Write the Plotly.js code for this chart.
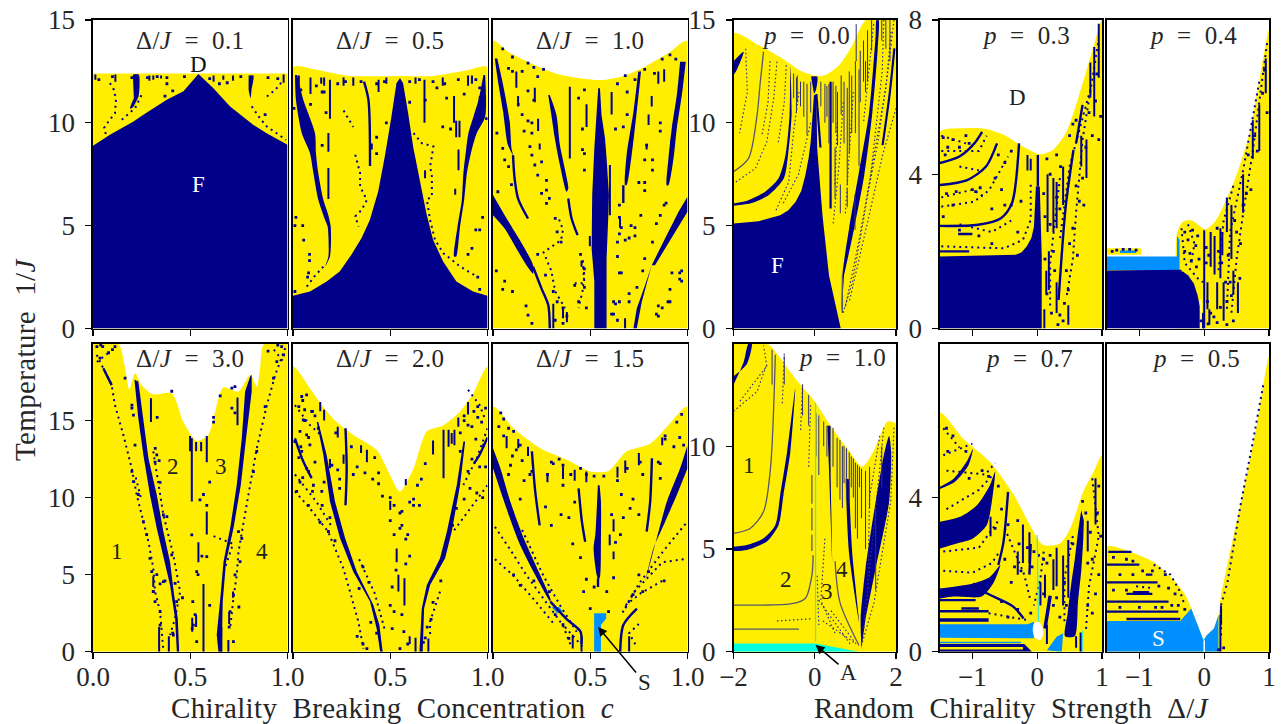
<!DOCTYPE html>
<html><head><meta charset="utf-8">
<script src="https://cdn.plot.ly/plotly-3.0.1.min.js"></script>
<style>html,body{margin:0;padding:0;background:#fff}#g{width:1282px;height:724px}.annotation-text{letter-spacing:.35px}</style>
</head><body><div id="g"></div>
<script>
// ---------- Δ/J = 0.1 ----------
const a1Edge=[[0,12.4],[1,12.4]];
const a1Navy=[[[0,0],[0,8.88],[.087,9.42],[.208,10.06],[.259,10.39],[.379,11.12],[.465,11.53],[.542,12.38],[.619,11.68],[.705,10.79],[.825,9.9],[.893,9.49],[1,8.93],[1,0]],
 [[.205,12.35],[.235,12.35],[.235,11.3],[.22,11],[.205,10.75],[.19,10.7],[.21,11.2]],[[.80,12.3],[.825,12.3],[.815,11.6],[.81,11.2],[.80,11.6]]];
const a1Streaks=[[.115,12.35,12],[.29,12.3,12.05],[.31,12.3,12.1],[.35,12.3,12.15],[.62,12.3,12],[.67,12.3,12.1],[.72,12.3,12.05],[.98,12.35,11.95],[.012,12.35,12.1]];
const a1Chains=[[[.087,11.93],[.108,11.6],[.118,11.12],[.113,10.47],[.079,10.06],[.057,9.75],[.067,9.42]],[[.148,10.15],[.216,10.71],[.25,11.36]],[[.816,10.8],[.86,10.2],[.894,9.82],[.945,9.5],[.993,9.17]],[[.894,11.28],[.937,11.6],[.98,12.09]]];
const a1Dots=[[.03,12.1],[.1,12.25],[.2,12.2],[.28,12.2],[.33,12.25],[.38,12.2],[.47,12.25],[.41,11.55],[.37,11.3],[.6,12.15],[.65,11.9],[.69,11.95],[.76,12.25],[.9,12.2],[.95,12.15],[.885,10.4],[.38,11.9]];
// ---------- Δ/J = 0.5 ----------
const a2Edge=[[0,12.7],[.12,12.58],[.29,12.28],[.55,12.28],[.72,12.28],[.89,12.54],[1,12.7]];
const a2Navy=[[[0,0],[0,1.59],[.087,1.8],[.173,2.29],[.24,2.77],[.30,3.58],[.352,4.39],[.395,5.28],[.438,6.66],[.472,8.36],[.506,10.3],[.532,11.93],[.55,12.18],[.566,11.93],[.592,10.46],[.618,8.83],[.652,7.21],[.686,5.59],[.72,4.31],[.772,3.26],[.84,2.29],[.926,1.8],[1,1.59],[1,0]],
 [[.01,12.33],[.015,11.12],[.045,9.5],[.087,8.53],[.105,7.55],[.13,6.26],[.165,5.28],[.178,4.96],[.182,3.5],[.165,3.01],[.19,3.5],[.194,4.96],[.182,5.5],[.156,6.26],[.13,7.55],[.118,8.53],[.113,9.5],[.053,11.12],[.022,12.33]],
 [[.979,12.33],[.954,11.12],[.928,10.31],[.902,9.5],[.89,8.69],[.876,7.55],[.868,6.26],[.846,4.96],[.828,3.5],[.839,3.5],[.859,4.96],[.88,6.26],[.894,7.55],[.919,8.69],[.945,9.5],[.988,10.31],[.988,12.33]]];
const a2Lines=[[[.365,12],[.388,11.1],[.396,7.9]]];
const a2Streaks=[[.182,9.5,8.6],[.19,12.1,10.2],[.182,7.8,6.3],[.44,12.1,11.5],[.676,12.1,10],[.828,11.3,10],[.839,10.1,9.3],[.856,10.1,9.3],[.851,8.7,7.7],[.679,7.7,7.3],[.834,6.8,6.5],[.09,12.2,11.4],[.26,12.2,11.8],[.405,9,8.7],[.145,12.2,11.9],[.16,12.2,11.8],[.31,12.2,11.8],[.48,12.2,11.9],[.63,12.2,11.9],[.77,12.2,11.8],[.9,12.3,11.8],[.92,12.3,11.9],[.96,11.3,10.3],[.03,12.3,11.7]];
const a2Chains=[[[.26,10.6],[.31,9.8]],[[.32,8.45],[.345,7.55],[.345,6.9],[.38,6.25],[.353,5.77],[.32,5.45],[.337,4.96]],[[.62,9.5],[.662,9.01],[.722,8.85],[.705,7.88],[.714,7.39],[.714,6.42],[.688,6.26],[.705,5.28],[.73,4.31],[.773,3.66],[.86,3.01],[.945,2.53]],[[.156,3.01],[.11,2.53],[.07,2.03]]];
const a2Dots=[[.015,5.4],[.01,5],[.05,5],[.055,4.3],[.085,3.6],[.085,3.3],[.075,2.5],[.08,2.7],[.01,1.8],[.975,5.4],[.94,4.8],[.96,4.8],[.92,3.9],[.9,3.6],[.95,2.5],[.96,1.9],[.15,8.9],[.17,10.5],[.15,11.5],[.09,10.9],[.04,11.6],[.43,8.5],[.43,9.3],[.48,10],[.6,11],[.68,11.1],[.79,11.2],[.88,11.4],[.96,11.7],[.77,9.8],[.81,9.7],[.005,10.7],[.995,10.2],[.12,11.8],[.16,11.5],[.23,11.9],[.27,12],[.35,12],[.43,11.9],[.47,12],[.6,12],[.65,12.1],[.72,12],[.74,11.7],[.78,11.9],[.85,12.1],[.94,12.1]];
// ---------- Δ/J = 1.0 ----------
const a3Edge=[[0,13.98],[.077,13.46],[.198,12.89],[.335,12.36],[.455,12.16],[.558,12.08],[.66,12.24],[.78,12.73],[.9,13.38],[1,13.98]];
const a3Navy=[[[.541,11.68],[.527,9.73],[.521,8.76],[.51,6.49],[.507,3.89],[.521,2.27],[.521,0],[.584,0],[.584,3.41],[.593,5.51],[.596,6.49],[.584,8.27],[.576,9.24],[.558,10.38],[.55,11.68]],
 [[.009,13.13],[.026,12],[.052,10.54],[.077,8.92],[.103,8.43],[.095,8.76],[.086,10.05],[.052,11.84],[.022,13.13]],
 [[.284,11.35],[.30,10.38],[.318,9.24],[.344,7.95],[.378,6.65],[.387,6.81],[.369,7.78],[.344,8.92],[.326,10.38],[.292,11.35]],
 [[0,6.49],[.06,5.51],[.112,4.7],[.163,3.89],[.206,3.08],[.206,2.68],[.172,3.08],[.12,3.89],[.06,4.86],[0,5.51]],
 [[.962,12.97],[.945,11.35],[.919,9.73],[.902,8.27],[.893,6.97],[.902,6.97],[.928,8.27],[.945,9.73],[.971,11.35],[.991,12.97]],
 [[.747,12.49],[.722,10.54],[.687,8.43],[.679,6.97],[.687,6.97],[.713,8.43],[.739,10.54],[.761,12.49]],
 [[1,6.41],[.954,5.68],[.902,4.7],[.851,3.73],[.816,3.08],[.782,2.11],[.739,.97],[.722,0],[.739,0],[.765,1.3],[.816,3.08],[.833,3.08],[.885,3.89],[.945,4.86],[1,5.68]]];
const a3Lines=[[[.103,8.43],[.111,7.3],[.129,6.32],[.18,5.35]],[[.387,6.32],[.404,5.35],[.435,4.54]],[[.206,3.0],[.249,1.95],[.284,1.14],[.292,0]],[[.67,6.97],[.67,6.1]]];
const a3Streaks=[[.395,11.76,8.27],[.481,10.9,9.8],[.61,11.5,10.4],[.601,7.95,5.51],[.215,11.7,11],[.12,12.5,11.7],[.129,11.3,10.8],[.232,10.2,9.6],[.24,9,8.7],[.8,10.4,9.9],[.816,11.3,10.8],[.79,9,8.7],[.653,5.4,4.9],[.498,4.5,4],[.455,3.3,3],[.679,.5,0],[.88,12.6,12],[.85,12.5,11.9],[.31,1.2,0],[.36,1,.5],[.38,.8,.3]];
const a3Chains=[[[.34,5.3],[.36,4.8],[.35,4.3],[.26,3.7],[.3,2.8],[.32,1.8],[.37,1]],[[.42,2.2],[.47,2.2],[.46,3.4],[.47,2.6],[.46,1.8],[.44,1]]];
const a3Dots=[[.017,2.8],[.06,2.3],[.05,1.9],[.1,1.8],[.17,1.1],[.18,.65],[.2,.25],[.92,2.7],[.96,2.4],[.96,2.7],[.9,1.3],[.85,1.1],[.84,.7],[.66,2.7],[.7,1.7],[.65,1.3],[.62,.7],[.64,.4],[.63,1.2],[.68,4.3],[.65,6],[.75,7.1],[.71,5],[.73,4.5],[.05,13.6],[.1,13.2],[.08,12.65],[.1,12.5],[.15,12.5],[.18,12.9],[.21,12.7],[.26,12.6],[.23,12.25],[.18,11.55],[.21,11.1],[.13,10.9],[.15,10.4],[.18,10.1],[.2,10],[.16,9.6],[.2,9.5],[.02,9.5],[.05,8.76],[.06,8.2],[.08,7.87],[.19,8.84],[.2,8.43],[.215,7.95],[.25,8.1],[.23,7.46],[.275,7.2],[.275,6.73],[.25,6.57],[.29,6.33],[.275,6.08],[.025,6.65],[.095,7],[.32,5.35],[.33,4.7],[.35,4.2],[.23,3.6],[.27,2.6],[.31,1.8],[.33,1.3],[.44,11.2],[.47,11.6],[.46,9.7],[.46,8.7],[.47,8.5],[.47,7.7],[.45,3.6],[.47,2.9],[.42,2.1],[.47,2],[.44,1.3],[.48,1],[.36,1],[.38,.6],[.36,.25],[.32,.4],[.63,9.7],[.67,9.8],[.69,10.4],[.69,11.5],[.64,11.9],[.68,12.3],[.73,12.1],[.78,12.6],[.83,12.4],[.87,13.1],[.91,13.3],[.94,13.1],[.86,10],[.86,9.6],[.92,9.1],[.79,8.9],[.78,8.2],[.82,8.2],[.82,7.7],[.78,7.1],[.78,6.7],[.89,6.1],[.88,6],[.86,5.5],[.84,5.1],[.76,5.5],[.65,5.4],[.66,4.9],[.65,4.6],[.64,4.2],[.7,4.4],[.73,4.9],[.82,4.2],[.78,3.4],[.64,3.5],[.65,2.7],[.62,1.3],[.61,.7],[.7,1.3],[.74,2],[.77,2.8],[.91,1.9],[.91,1.3],[.87,1],[.85,.6],[.97,2.8],[.97,2.3]];
// ---------- Δ/J = 3.0 ----------
const b1Edge=[[0,20],[.13,20],[.165,18.4],[.187,17],[.216,18.07],[.25,17.3],[.307,16.7],[.405,16.77],[.465,14.9],[.533,13.68],[.594,14.1],[.628,15.58],[.67,17.14],[.748,16.88],[.808,17.97],[.842,17.2],[.859,18.4],[.88,20],[1,20]];
const b1Navy=[[[.213,17.64],[.233,15.15],[.259,12.77],[.293,10.17],[.328,8],[.362,6.06],[.396,4.33],[.422,2.16],[.431,0],[.443,0],[.436,2.16],[.417,3.68],[.396,5.84],[.362,7.79],[.328,10.17],[.285,12.55],[.259,15.15],[.233,17.53]],
 [[.808,17.86],[.782,16.88],[.765,13.85],[.739,10.82],[.705,8],[.671,5.84],[.653,3.25],[.636,1.08],[.645,0],[.662,0],[.667,3.25],[.684,5.84],[.722,8],[.76,10.82],[.787,13.85],[.816,16.88],[.816,17.97]]];
const b1Lines=[[[.053,18.4],[.096,17.3]]];
const b1Streaks=[[.298,16.45,14.9],[.508,13.85,9.74],[.499,14,13],[.585,14,12.3],[.585,9.1,7.6],[.542,7.1,5.8],[.568,4.4,0],[.743,16.5,14.7],[.34,1.6,0],[.696,.76,0],[.53,13.6,13],[.556,13.6,13],[.51,2.2,1.3],[.53,2.4,1.6],[.39,1,0],[.66,1.6,0],[.7,2.6,1.8],[.72,3.9,3.5],[.31,4.9,4.2]];
const b1Chains=[[[.019,19.26],[.053,18.4],[.096,17.3],[.113,16],[.156,14.07],[.199,11.9],[.225,10.17],[.259,8.44],[.285,7.14],[.31,5.41],[.319,3.9],[.345,2.6],[.362,0]],[[.988,19.7],[.937,17.97],[.894,16],[.842,13.2],[.808,10.82],[.774,8.44],[.748,6.49],[.739,4.98],[.722,3.46],[.705,1.5]],[[.31,13],[.345,10.4],[.362,8.87],[.413,6.28],[.448,3.9],[.422,2.16],[.396,1.08]],[[.62,7.5],[.72,7],[.68,5.5]],[[.02,18.8],[.08,19.4]],[[.93,19.6],[.98,18.8]],[[.22,11.3],[.25,9.8]]];
const b1Dots=[[.1,19.6],[.04,19.9],[.95,19.9],[.9,19.5],[.2,15.8],[.33,15.2],[.32,13.2],[.34,12.4],[.6,11],[.56,6.2],[.54,5],[.6,3],[.51,1.5],[.75,2.9],[.46,3.5],[.31,3.9],[.345,4.4],[.37,4.6],[.41,1.2],[.7,1.6],[.73,15.5],[.62,15.2],[.73,17.2],[.02,19.8],[.05,19.8],[.036,19.05],[.08,19.4],[.113,19.8],[.165,17.75],[.2,16],[.208,15.35],[.216,13.4],[.2,11.7],[.208,11.04],[.233,10.2],[.259,8.44],[.276,7.6],[.293,6.06],[.302,5.2],[.328,5],[.31,3.9],[.362,4.55],[.319,3.25],[.345,2.6],[.345,1.73],[.413,1.08],[.43,3.25],[.422,4.44],[.405,6.28],[.362,8.87],[.38,8.77],[.345,10.99],[.319,12.3],[.328,12.77],[.55,9.85],[.568,10.2],[.585,9.5],[.508,7.58],[.585,6.17],[.533,5.2],[.513,3.25],[.525,2.4],[.516,1.73],[.533,.65],[.722,.65],[.705,2.6],[.722,3.68],[.73,4.98],[.756,5.84],[.765,7.36],[.748,7.79],[.825,11.69],[.842,13],[.885,15.9],[.928,17.75],[.945,18.83],[.98,19.26],[.97,19.8],[.62,14.9],[.654,16.6],[.714,15.8],[.714,17.1],[.405,16.9]];
// ---------- Δ/J = 2.0 ----------
const b2Edge=[[0,18.5],[.087,17.1],[.148,16],[.225,14.9],[.31,14.07],[.43,13.1],[.49,11.7],[.55,10.4],[.62,11.9],[.688,14.3],[.774,14.7],[.86,15.6],[.928,16.8],[1,18.5]];
const b2Navy=[[[.122,14.9],[.156,12.77],[.19,9.74],[.242,7.36],[.31,5.19],[.396,3.25],[.43,1.5],[.448,0],[.461,0],[.444,1.73],[.413,3.03],[.328,5.19],[.268,7.36],[.216,9.74],[.173,12.77],[.13,14.9]],
 [[.876,13.64],[.842,10.82],[.791,7.79],[.756,6.06],[.688,4.33],[.662,2.81],[.65,0],[.667,0],[.674,2.81],[.705,4.33],[.782,6.06],[.816,7.79],[.859,10.82],[.885,13.64]]];
const b2Lines=[[[.01,13.85],[.053,12.34],[.096,11.26]],[[1,13.9],[.96,12.8],[.93,12.2]],[[.27,14.5],[.276,11.9],[.27,9.5]]];
const b2Streaks=[[.774,14.4,11.26],[.542,5,3.9],[.573,4.76,3],[.533,6.7,5.8],[.816,14.2,13.5],[.85,15.2,14.6],[.696,.86,0],[.8,14.4,13.3],[.83,14.4,13.4],[.9,16.2,15.4],[.16,15.7,15],[.14,16.2,15.6],[.23,14.6,13.9],[.26,12.8,12.2],[.19,12.5,11.9],[.5,9.8,9.2],[.58,11.2,10.8],[.35,13.4,12.9],[.72,13.7,12.8],[.38,13.1,12.3],[.6,1,.5],[.63,.9,0]];
const b2Chains=[[[.01,10.4],[.087,9.3],[.18,7.8],[.259,5.4],[.293,3.9],[.336,1.95],[.362,.2]],[[.01,11.5],[.12,9.74],[.2,8.1]],[[.01,16],[.087,14.7],[.14,14.1]],[[1,14.5],[.945,12.55],[.876,10.82]],[[1,10.8],[.894,9],[.824,7.8]],[[.756,3.9],[.705,1.95],[.705,1.1]],[[.34,6],[.42,3.8],[.47,1.5]],[[.9,17],[.96,16],[.99,15]]];
const b2Dots=[[.05,16.3],[.1,15.6],[.06,15],[.13,14.5],[.22,14.2],[.3,13.3],[.42,12.6],[.44,11.6],[.95,15.2],[.92,14.6],[.88,15],[.94,13.8],[.86,13],[.99,12],[.55,9],[.62,9.5],[.56,8.2],[.59,7.6],[.04,13.3],[.08,13.9],[.045,16.56],[.07,16.67],[.03,15.9],[.06,15.7],[.096,15.6],[.113,15.3],[.053,15.05],[.036,14.3],[.07,14.07],[.01,13.64],[.087,13.42],[.045,13],[.113,12.3],[.07,11.9],[.036,11],[.105,10.8],[.148,10.4],[.019,10.4],[.079,9.5],[.139,8.4],[.182,7.8],[.216,7.2],[.88,15.3],[.86,14.2],[.9,14.7],[.93,15.6],[.95,15.9],[.97,14.9],[.99,15.8],[.98,13.4],[.96,12],[.92,12.5],[.9,11.7],[.91,10.6],[.945,10.3],[.975,10],[.88,9.9],[.84,9.3],[.82,8.2],[.5,10],[.52,9.5],[.5,8.5],[.56,9.1],[.6,9.7],[.62,9.9],[.65,9.5],[.66,11.2],[.68,12.2],[.64,10.8],[.55,8],[.52,7.6],[.58,7.3],[.6,6.2],[.58,5.7],[.53,5.3],[.51,4.2],[.5,3],[.52,2.6],[.56,2.4],[.51,1.5],[.57,1.3],[.55,.2],[.59,.5],[.05,11.3],[.1,10.4],[.15,9.5],[.19,8.7],[.03,12.6],[.08,11.7],[.16,11],[.2,12.1],[.23,11.8],[.24,11.2],[.24,10.6],[.31,11.5],[.33,12],[.37,11.6],[.41,11.2],[.44,10.9],[.46,10.1],[.36,5.5],[.39,4.5],[.34,4.1],[.4,1.9],[.43,1.2],[.33,1],[.36,.5],[.38,.2],[.76,4.6],[.72,3.2],[.71,2.1],[.69,1.6],[.68,.9],[.67,.6]];
// ---------- Δ/J = 1.5 ----------
const b3Edge=[[0,15.9],[.106,14.5],[.243,13.2],[.38,12.45],[.5,11.7],[.594,11.73],[.688,13],[.808,13.5],[.911,14.83],[1,15.9]];
const b3Navy=[[[0,13.2],[.038,11.9],[.089,9.74],[.158,7.36],[.235,5.19],[.295,3.46],[.295,3.25],[.217,4.98],[.132,7.14],[.063,9.52],[0,11.9]],
 [[1,13.42],[.962,11.9],[.894,9.74],[.842,7.36],[.783,4.55],[.825,6.71],[.885,8.44],[.945,10.17],[1,11.9]],
 [[.539,10.8],[.526,7.6],[.517,6.7],[.539,4.76],[.548,4.76],[.555,7.14],[.555,9.74],[.548,10.8]]];
const b3Blue=[[[.52,2.49],[.582,2.49],[.582,2.16],[.555,1.73],[.555,0],[.52,0]],[[.3,2.9],[.34,2.9],[.36,2.6],[.33,2.5]]];
const b3Lines=[[[.2,13],[.217,10.4],[.24,8.2]],[[.44,10.6],[.457,8.44],[.474,7.14]],[[.817,12.55],[.808,9.74],[.79,7.79]],[[.295,3.25],[.38,2.1],[.45,1.3],[.455,.5]],[[.74,2.8],[.67,1.73],[.654,0]],[[.54,4.76],[.54,4.2]]];
const b3Streaks=[[.07,14,13.2],[.13,13.8,13.2],[.18,13.3,12.7],[.28,11.6,11],[.36,12,11.2],[.42,11.8,11.1],[.48,11.7,11],[.64,12,11.3],[.68,12.4,11.6],[.75,12.9,12.1],[.62,8.6,7.8],[.6,7.6,6.9],[.62,6.5,6],[.87,13.9,13.4],[.41,1.1,.2],[.455,1,0],[.7,1,0]];
const b3Chains=[[[.01,8.1],[.09,6.6],[.17,5],[.28,3.1],[.36,1.7],[.4,.4]],[[.01,6],[.1,5],[.21,3.4],[.32,1.7]],[[.15,7.9],[.21,6.2],[.26,4.9],[.35,2.9],[.43,1.3]],[[.99,8.3],[.88,6.6],[.75,4.4],[.68,2.8]],[[.98,6],[.87,5.8],[.72,3.8],[.66,2.4]],[[.87,4.6],[.76,3.8],[.68,3]],[[.75,1.8],[.7,1.2],[.74,.3]],[[.37,1.6],[.42,.9],[.47,.2]]];
const b3Dots=[[.2,11.7],[.27,9.4],[.3,8.2],[.1,9],[.14,9.9],[.66,10.2],[.72,9.9],[.75,8.9],[.93,13.3],[.96,13.9],[.86,12.2],[.1,12.7],[.3,12.3],[.57,11.4],[.52,11.4],[.04,15.5],[.055,15.1],[.03,14.6],[.08,14.5],[.055,14],[.106,14.3],[.14,13.4],[.12,13.1],[.15,12.4],[.09,12.1],[.08,11.5],[.16,11.1],[.19,11.5],[.28,11.5],[.31,12.2],[.36,12.1],[.34,12.5],[.4,11.5],[.48,11.5],[.45,11.9],[.42,9.7],[.36,10.8],[.35,8.9],[.39,8.7],[.41,7],[.45,6.1],[.48,4.7],[.52,4.2],[.466,3.9],[.5,2.8],[.594,2.6],[.62,4.8],[.585,3.9],[.63,7.1],[.61,8.9],[.67,8.7],[.705,9.3],[.655,7.6],[.64,11.1],[.69,11.9],[.757,12.3],[.77,11.5],[.86,11.25],[.85,12.3],[.885,14],[.945,14.9],[.98,13.4],[.97,15.4],[.885,13.8],[.75,4.98],[.8,5.2],[.88,4.6],[.72,3.7],[.77,3.9],[.106,4.98],[.14,4.3],[.21,4.6],[.29,3.9],[.32,2.4],[.36,1.75],[.39,.87]];
// ---------- p = 0.0 ----------
const t1Edge=[[-2,14.35],[-1.38,13.78],[-.8,13.13],[-.31,12.49],[-.02,12.3],[.23,12.3],[.6,12.8],[.93,13.78],[1.26,15],[2,15]];
const t1Navy=[[[-2,0],[-2,5.1],[-1.38,5.22],[-.85,5.51],[-.65,5.75],[-.47,6.16],[-.33,6.7],[-.23,7.46],[-.15,8.3],[-.1,9.08],[-.02,11.35],[.04,11.35],[.06,8.76],[.19,5.51],[.35,2.59],[.64,0]],
 [[-.09,12.25],[.06,12.25],[.03,11.6],[-.02,11.4]],
 [[-2,6.08],[-1.63,6.24],[-1.22,6.65],[-.89,7.3],[-.72,8.43],[-.62,10.38],[-.6,12.73],[-.57,10.38],[-.64,8.76],[-.76,7.3],[-1.13,6.49],[-1.55,6.1],[-2,5.97]],
 [[-2,13],[-1.75,13.46],[-1.92,12.57],[-2,12.32]],
 [[.66,.73],[.68,2.59],[.845,4.86],[1.09,7.62],[1.34,10.54],[1.5,14.27],[1.52,15],[1.57,15],[1.55,13.62],[1.42,10.54],[1.22,7.46],[.97,4.86],[.72,2.59]]];
const t1Lines=[[[1.96,13.62],[1.84,11.35],[1.67,8.92]],[[.39,12],[.39,5.84]],[[.04,11.4],[.14,8.8]]];
const t1Streaks=[[.56,11.5,8.9],[.52,11.8,9.5],[.72,12,9],[.8,11.7,7],[.8,6.8,5.9],[.91,12.3,9.5],[1.09,12.6,7.9],[1.25,13,11.5],[.25,11.9,10],[-.19,11.9,9.4],[-.27,12,10.3],[-.43,12.3,11],[-.52,12.4,11.2],[-.35,12,10.8],[.3,11.8,10.3],[.5,8.8,6.3],[.63,7,5.6],[.99,6.5,4.8],[1.02,14.8,13],[1.75,15,13.6],[1.2,14,12],[-.45,12.2,10.5],[-.1,12,10.5],[.15,12,10.8],[.35,11.9,9],[.45,12,10],[.65,12.3,10.4],[.85,12.5,8.5],[1,13,9.5],[1.12,13.5,11],[1.3,14.5,12],[1.4,15,13.5],[1.65,15,14],[1.85,15,13]];
const t1Chains=[[[-.93,12.97],[-1.01,11.19],[-1.18,9.08],[-1.46,7.78],[-2,7.05]],[[-.39,11.5],[-.52,9.57],[-.64,7.13],[-.97,5.68]],[[1.88,14.43],[1.75,11.68],[1.46,8.43],[1.22,5.51],[.93,2.27],[.68,.65]],[[2,10.7],[1.67,8.43],[1.34,5.51],[.85,1.3]],[[1.7,15],[1.66,12.5],[1.38,7.5],[1.1,4.4],[.75,1]],[[-1.7,13.6],[-1.66,11.5],[-1.85,9.5]],[[-.1,10],[-.4,7.5],[-.8,6]],[[.95,11.5],[.85,8.5],[.75,5.5]],[[-1.1,13],[-1.15,11],[-1.3,9.4]],[[-.7,12.8],[-.75,11],[-.9,9]],[[.7,11],[.6,8],[.45,5]],[[1.45,14.8],[1.2,10]],[[1.95,15],[1.8,12.5],[1.55,9],[1.3,6.5]],[[.55,10],[.5,7]]];
const t1Thin=[[[-1.26,13.46],[-1.34,12],[-1.42,10.38],[-1.63,8.27],[-2,7.62]],[[.68,2.6],[.68,.75]]];
// ---------- p = 1.0 ----------
const c1Edge=[[-2,15],[-1.18,15],[-.85,14.3],[-.44,13.2],[-.025,12.25],[.39,11],[.8,9.9],[1.17,9],[1.46,9.8],[1.79,11.2],[2,11.1]];
const c1Cyan=[[[-2,.4],[.02,.4],[1.09,0],[-2,0]]];
const c1CyanLines=[[[.02,12.1],[.02,.5]]];
const c1Navy=[[[-2,5.11],[-1.67,5.19],[-1.26,5.52],[-.97,6.17],[-.85,7.63],[-.68,9.74],[-.48,12.82],[-.6,9.74],[-.77,7.63],[-.89,6.17],[-1.18,5.36],[-1.67,4.95],[-2,4.9]],
 [[-2,12.99],[-1.75,14.1],[-1.63,15],[-1.55,15],[-1.67,14],[-2,13.4]],
 [[1.15,.16],[1.13,1.62],[1.25,4.06],[1.5,7.3],[1.72,9.74],[1.83,10.5],[1.88,9.74],[1.83,7.3],[1.5,4.06],[1.25,1.62]],
 [[.31,11],[.35,8.9],[.43,4.4],[.39,8.9],[.39,11]],
 [[.76,8.4],[.84,4.87],[1.09,1.46],[.92,4.87],[.84,8.4]]];
const c1Thin=[[[-2,5.76],[-1.59,6],[-1.26,6.82],[-1.09,8.93],[-.97,14.45]],[[-2,2.27],[-.52,2.35],[-.23,2.6],[-.07,3.73],[-.04,4.7]],[[-2,1.1],[-.39,1.1]],[[.5,4.4],[.62,2.4],[1.09,.3]]];
const c1Streaks=[[.55,10.4,8],[.62,10.3,7.4],[.72,10,8.2],[.85,9.7,7.3],[.95,9.4,7.5],[1,9.2,6],[1.05,9.1,5.5],[1.15,8.9,6.5],[1.25,8.8,5],[1.5,7,3],[.1,11.5,8.6],[-.07,8.6,7.2],[-.07,7,5.9],[-.07,5.7,4.9],[.03,11.6,9.5],[.45,10.9,9],[-.15,12.5,11],[-.3,13,11.5],[-.75,14.4,13],[-1.05,14.7,13],[.22,11.2,10],[.3,11,9.5],[.68,10,7],[.78,9.9,7.5],[.9,9.5,8],[1.1,9,8],[1.35,9,7],[1.65,10,8]];
const c1Chains=[[[-2,11.7],[-1.42,12.66],[-1.18,14]],[[-1.84,12.2],[-1.18,13.9],[-1.26,14.9]],[[1.95,10.9],[1.87,7.3],[1.46,2.4],[1.15,.3]],[[.06,3.7],[.1,1.3]],[[.4,2],[1.05,.3]],[[-.93,1.5],[-.1,1.6]],[[.25,5.5],[.15,2.5],[.5,.9]],[[1.6,10.5],[1.35,7.5],[1.3,2.5]],[[-.15,9],[-.1,12]],[[.2,1.5],[1,.4]],[[.1,2.5],[.9,.3]],[[-.75,14.5],[-.8,12]],[[-.3,13],[-.35,10.7]],[[1.7,10.9],[1.5,7],[1.2,1]]];
// ---------- p = 0.3 ----------
const t2Edge=[[-1.5,5.1],[-1.2,5.19],[-.85,5.19],[-.51,5.02],[-.22,4.72],[.04,4.52],[.24,4.63],[.44,5.06],[.64,6.01],[.87,7.31],[1,8]];
const t2Navy=[[[-1.5,0],[-1.5,1.87],[-.33,1.91],[-.24,1.98],[-.16,2.13],[-.09,2.35],[-.05,2.64],[-.02,3.68],[.04,3.68],[.07,1.87],[.07,0]]];
const t2Lines=[[[-1.5,2.66],[-.91,2.69],[-.56,2.86],[-.39,3.25],[-.28,4.8]],[[-1.5,3.72],[-1.08,3.85],[-.79,4.2],[-.62,4.8]],[[-1.5,4.29],[-1.2,4.46],[-.97,4.8],[-.85,5.1]],[[-1.5,2],[-1.05,2]],[[-1.22,2.45],[-1,2.45]],[[.01,4.5],[.01,3.68]],[[.56,4.63],[.44,3.16],[.33,.74]],[[.7,5.8],[.6,4.8]]];
const t2Streaks=[[.88,7.3,5.5],[.95,7.9,6.5],[.16,4,2.5],[.25,3.9,2.5],[.3,3.8,2.6],[.4,4.2,3.2],[-.1,4.4,4.1],[-.15,4.5,4.1],[.11,.5,0],[.14,1.5,.9],[.18,2,1],[.3,1.2,.4],[.48,.6,.1],[.82,6.9,6],[.68,5,4.2],[.76,4.9,3.9]];
const t2Chains=[[[-1.48,3.16],[-.97,3.29],[-.74,3.59],[-.45,4.46]],[[-1.48,2.13],[-.51,2.08],[-.22,2.3],[-.1,2.82],[-.1,3.77]],[[-1.48,3.4],[-1,3.6],[-.8,3.4]],[[-1.48,4.6],[-.9,4.6],[-.78,5]],[[-1.48,5],[-1.1,4.8]],[[.94,7.4],[.7,4.9],[.6,3],[.55,1.8],[.45,.8]],[[.82,6.2],[.5,4.2],[.35,2.3]],[[.35,3.9],[.2,1.7],[.2,.5]],[[-1.2,4.2],[-.9,4.1]],[[-1.2,2.7],[-.7,2.5],[-.4,2.8]]];
const t2Dots=[[-1,3.6],[-.95,3.55],[-.88,3.65],[-1.3,3.2],[-.7,3.1],[-.5,3.2],[.3,4.5],[.36,4.2],[.55,5.3],[.5,5],[.35,.35],[.32,.1],[.4,.2],[.15,4.4],[.2,4],[.1,3.5],[.3,3.4],[.35,3.1],[.12,2.9],[.2,2.7],[.25,2],[.12,1.8],[.15,.9],[.22,.4],[.27,1.5],[.45,1.5],[.48,1],[.42,.65],[.5,2.2],[.55,2.6],[.6,3.7],[.65,3.3],[.7,3.9],[.72,3.2],[.62,1.9],[.75,4.7],[.8,5.6],[.85,5],[.9,5.9],[.92,6.6],[.98,5.5],[.95,4.9],[.6,5.4],[-1.45,4.95],[-1.38,4.7],[-1.3,4.9],[-1.2,4.7],[-1.1,5],[-1.05,4.8],[-1.42,4.5],[-.6,4.5],[-.5,4.3],[-.4,4.6],[-1.4,3.5],[-1.25,3.55],[-.65,3.9],[-.55,3.6],[-.4,3.2],[-1.45,2.9],[-1.2,2.55],[-.9,2.4],[-.7,2.2],[-.3,2.5],[-.25,3.3]];
// ---------- p = 0.4 ----------
const t3Edge=[[-.42,2.47],[-.33,2.77],[-.19,2.8],[.02,2.57],[.18,2.8],[.47,3.85],[.7,5.06],[.87,6.62],[1,7.74]];
const t3Yellow=[[[-1.5,2.08],[-.97,2.08],[-.97,1.91],[-1.5,1.91]],[[-1.5,1.52],[-.42,1.52],[-.42,1.4],[-1.5,1.4]]];
const t3Blue=[[[-1.5,1.87],[-.42,1.87],[-.42,2.4],[-.38,2.3],[-.38,1.5],[-1.5,1.52]],[[-1.3,2.02],[-1.05,2.02],[-1.05,1.96],[-1.3,1.96]]];
const t3Navy=[[[-1.5,0],[-1.5,1.46],[-.33,1.48],[-.25,1.38],[-.16,1.17],[-.1,.85],[-.07,.57],[-.07,0]]];
const t3Lines=[[[-1.5,1.47],[-.35,1.49]]];
const t3Streaks=[[0,2.55,0],[.05,1.2,.5],[.1,2.5,1.6],[.16,2.4,1.4],[.25,2.6,1.3],[.28,2.5,1.9],[.35,3.4,2.5],[.42,3.2,1.8],[.2,1.2,.5],[.3,1.2,.2],[.6,4,3],[.75,5.4,4.4],[.85,5.8,4.6],[.95,7,6.1],[.45,1.5,.9],[.52,1.2,.4],[-.02,.4,0],[.08,.5,.1]];
const t3Chains=[[[-.35,2.6],[-.3,1.7],[-.1,1.3],[-.02,1.2]],[[-.25,2.7],[-.15,2.2],[-.2,1.7]],[[.97,7.4],[.75,4.6],[.62,3.2],[.5,1.8],[.42,.4]],[[.85,6.4],[.6,4.1],[.4,2.5],[.35,.5]],[[.45,3.7],[.3,2.8],[.22,1.5]]];
const t3Dots=[[-1.42,2],[-1.35,2.03],[-1.25,2.05],[-1.15,2.05],[-1.05,2.03],[-.05,.2],[.06,.12],[.35,.1],[.2,.15],[.15,.3],[-.3,2.5],[-.25,2.3],[-.18,2.55],[-.1,2.4],[-.13,2.15],[-.22,1.95],[-.3,2],[-.2,1.75],[-.12,1.6],[-.08,1.8],[.03,1.7],[.03,2.1],[.07,1.9],[.2,2.6],[.22,2],[.27,1.7],[.33,1.2],[.37,1.9],[.4,1.2],[.42,.85],[.05,.7],[.1,.4],[.25,.55],[.35,.7],[.47,2.8],[.5,2.5],[.55,1.3],[.6,3.2],[.65,3.5],[.68,4.5],[.72,3.6],[.78,5],[.82,4.6],[.9,6.1],[.93,6.7],[.97,5.6],[.56,2.2],[.45,.2]];
const t3White=[[[-.045,.75],[-.045,0]]];
// ---------- p = 0.7 ----------
const c2Edge=[[-1.5,6.2],[-1.14,5.53],[-.73,4.93],[-.37,4.1],[-.11,3.28],[.09,2.77],[.35,2.81],[.51,3.2],[.71,4.15],[.87,4.67],[1,5.1]];
const c2Blue=[[[-1.5,.71],[-.15,.71],[-.05,.78],[-.05,.35],[-1.5,.36]],[[.15,.04],[.3,.39],[.4,.48],[.38,0]],[[-1.5,.26],[-.25,.26],[-.25,.22],[-1.5,.22]]];
const c2Navy=[[[-1.5,3.37],[-1.19,3.5],[-.93,3.8],[-.73,4.32],[-.65,4.67],[-.7,3.89],[-.78,3.28],[-.99,2.94],[-1.24,2.81],[-1.5,2.68]],
 [[-1.5,4.28],[-1.29,4.49],[-1.09,4.93],[-.99,5.27],[-1.06,4.84],[-1.27,4.41],[-1.5,4.22]],
 [[-1.5,1.64],[-.99,1.77],[-.73,1.94],[-.57,2.25],[-.68,1.77],[-.86,1.43],[-1.29,1.43],[-1.5,1.38]],
 [[.68,3.67],[.63,3.1],[.58,2.4],[.52,1.7],[.47,1],[.43,.4],[.58,.4],[.63,1.3],[.68,2.1],[.71,2.9],[.72,3.4]],
 [[-1.5,.2],[-.2,.2],[-.08,0],[-1.5,0]]];
const c2Yellow=[[[-1.5,.12],[-.22,.12],[-.22,.06],[-1.5,.06]]];
const c2Heavy=[[[-1.5,.82],[-.75,.82]],[[.2,1.45],[.12,.6]]];
const c2Lines=[[[-1.5,1.34],[-.95,1.34]],[[-1.5,1.05],[-.75,1.05]],[[-1.17,1.12],[-.9,1.12]],[[-.99,1.77],[-.83,1.56],[-.37,1.17],[-.21,.86]],[[-.45,4.15],[-.52,2.85],[-.6,2.25]],[[-.1,2.8],[-.12,2]]];
const c2Streaks=[[-.22,3.3,2.3],[-.12,3.1,2.3],[-.3,2.6,2],[.3,2.7,1.7],[.4,2.5,1.2],[.25,2.4,1.6],[.05,1.8,1.2],[.12,2,1.4],[.9,4.5,3.3],[.78,3.4,2.6],[.48,2.9,1.4],[.67,.5,0],[.6,.4,.1],[.15,.7,.2],[-.72,3.5,3]];
const c2Chains=[[[-1.45,5.8],[-1.2,5.3]],[[-1.45,5.1],[-1,5.4]],[[-1.4,4.7],[-.8,4.6],[-.65,4.9]],[[-1.4,3.7],[-.9,4.2],[-.68,4.6]],[[-1.45,2.6],[-.9,2.7],[-.6,3.4]],[[-1.45,2.1],[-1,2.05],[-.7,2.3],[-.58,2.6]],[[-.5,3.2],[-.2,2],[-.1,1.3]],[[.85,4.5],[.95,3],[.8,1.7],[.75,.5]],[[.55,3],[.42,1.9],[.42,.7]],[[-.75,1],[-.3,.85],[-.15,.82]],[[.1,2.6],[.05,1.9],[-.05,1.2]]];
const c2Dots=[[-1.4,5.8],[-1.3,5.6],[-1.38,5.2],[-1.1,5.2],[-1.05,4.5],[-.85,4.7],[-.75,4.55],[-.6,4.3],[-.55,3.7],[-.65,3.2],[-.5,2.4],[-.45,3.3],[-.3,3.4],[-.28,2.8],[-.25,2.1],[-.15,2.7],[-.08,2.2],[-.4,1.8],[-.35,2.2],[-.55,1.3],[-.45,.9],[-.3,1.1],[-.1,1],[-.05,2.6],[.02,2.5],[.1,2.4],[.15,2.3],[.2,2.5],[.1,1.5],[.25,1.2],[.3,1.4],[.35,.9],[.42,1.8],[.45,1.2],[.55,2.8],[.7,3.9],[.75,3.6],[.82,3.1],[.85,2.4],[.9,1.5],[.85,1],[.95,2],[.93,3.6],[.98,3],[.95,4.3],[.78,2.3],[.78,1.2]];
const c2Cyan=[[[.0,3.03],[.02,.78]],[[.7,.55],[.7,0]]];
const c2Hole=[[[-.07,.56],[-.05,.73],[.02,.78],[.08,.65],[.09,.43],[.04,.3],[-.05,.39]]];
// ---------- p = 0.5 ----------
const c3Edge=[[-1.5,2.72],[-1.14,2.59],[-.78,2.33],[-.47,1.86],[-.29,1.47],[-.2,1.12],[-.14,.86],[-.06,.52],[-.01,.3],[.04,.43],[.15,.6],[.22,.95],[.26,1.47],[.4,2.59],[.61,4.23],[.81,5.88],[1,7.65]];
const c3Blue=[[[-1.5,.8],[-.37,.8],[-.2,1.12],[-.14,.86],[-.06,.52],[-.01,.3],[.04,.43],[.15,.6],[.22,.95],[.22,0],[-1.5,0]]];
const c3Lines=[[[-1.48,2.59],[-1.12,2.59]],[[-1.5,2.26],[-1,2.26]],[[-1.5,1.8],[-.72,1.8]],[[-1.5,1.3],[-.55,1.3]],[[-1.5,1.04],[-.4,1.04]],[[-1.2,1.5],[-.8,1.5]],[[-.9,2],[-.8,2]],[[-1.2,.85],[-.37,.85]]];
const c3Heavy=[[[-1.1,1.53],[-.85,1.53]]];
const c3Streaks=[[.25,.95,0],[.26,1.2,.7]];
const c3Chains=[[[-.78,2.26],[-.52,2],[-.37,1.55],[-.3,1.2]],[[.26,.43],[.26,1.21],[.36,1.81],[.46,2.85],[.56,3.8],[.76,5.53],[.92,7]],[[-1.05,1.7],[-.8,1.65]]];
const c3Dots=[[-1.1,2.35],[-1.1,2.0],[-.95,2.1],[-.8,2.1],[-.6,2],[-.45,1.5],[-.4,1.2],[-.65,1.15],[-.75,1.15],[.3,.1],[.22,.05],[-1.4,2.45],[-1.2,2.4],[-1.3,2],[-1.4,1.6],[-1.2,1.6],[-1.3,1.15],[-1,1.15],[-.7,1.7],[-.55,1.65],[-.5,1.2],[-.3,1.1]];
const c3White=[[[0,.3],[0,0]]];

const cTicks=[0,.5,1], dTicks3=[-1,0,1], dTicks4=[-2,0,2];
const cLabelsFirst=['0.0','0.5','1.0'], cLabelsNext=['','0.5','1.0'];
const GAP='\u00a0\u00a0';
const panels=[
 {col:0,row:0,xr:[0,1],yr:[0,15],xt:cTicks,yt:[0,5,10,15],title:`Δ/<i>J</i>${GAP}=${GAP}0.1`,ty:13.98,tx:.5,flatEdge:1,edge:a1Edge,navy:a1Navy,streaks:a1Streaks,chains:a1Chains,dots:a1Dots},
 {col:1,row:0,xr:[0,1],yr:[0,15],xt:cTicks,title:`Δ/<i>J</i>${GAP}=${GAP}0.5`,ty:13.98,tx:.5,edge:a2Edge,navy:a2Navy,lines:a2Lines,streaks:a2Streaks,chains:a2Chains,dots:a2Dots},
 {col:2,row:0,xr:[0,1],yr:[0,15],xt:cTicks,title:`Δ/<i>J</i>${GAP}=${GAP}1.0`,ty:13.98,tx:.5,edge:a3Edge,navy:a3Navy,lines:a3Lines,streaks:a3Streaks,chains:a3Chains,dots:a3Dots},
 {col:3,row:0,xr:[-2,2],yr:[0,15],xt:dTicks4,yt:[0,5,10,15],title:`<i>p</i>${GAP}=${GAP}0.0`,ty:14.27,tx:-.22,fine:1,edge:t1Edge,navy:t1Navy,lines:t1Lines,thin:t1Thin,streaks:t1Streaks,chains:t1Chains},
 {col:4,row:0,xr:[-1.5,1],yr:[0,8],xt:dTicks3,yt:[0,4,8],title:`<i>p</i>${GAP}=${GAP}0.3`,ty:7.6,tx:-.18,edge:t2Edge,navy:t2Navy,lines:t2Lines,streaks:t2Streaks,chains:t2Chains,dots:t2Dots},
 {col:5,row:0,xr:[-1.5,1],yr:[0,8],xt:dTicks3,title:`<i>p</i>${GAP}=${GAP}0.4`,ty:7.6,tx:-.18,edge:t3Edge,yellow:t3Yellow,blue:t3Blue,navy:t3Navy,lines:t3Lines,streaks:t3Streaks,chains:t3Chains,dots:t3Dots,white:t3White},
 {col:0,row:1,xr:[0,1],yr:[0,20],xt:cTicks,yt:[0,5,10,15],title:`Δ/<i>J</i>${GAP}=${GAP}3.0`,ty:19.05,tx:.5,lab:cLabelsFirst,edge:b1Edge,navy:b1Navy,lines:b1Lines,streaks:b1Streaks,chains:b1Chains,dots:b1Dots},
 {col:1,row:1,xr:[0,1],yr:[0,20],xt:cTicks,title:`Δ/<i>J</i>${GAP}=${GAP}2.0`,ty:19.05,tx:.5,lab:cLabelsNext,edge:b2Edge,navy:b2Navy,lines:b2Lines,streaks:b2Streaks,chains:b2Chains,dots:b2Dots},
 {col:2,row:1,xr:[0,1],yr:[0,20],xt:cTicks,title:`Δ/<i>J</i>${GAP}=${GAP}1.5`,ty:19.05,tx:.5,lab:cLabelsNext,edge:b3Edge,navy:b3Navy,blue:b3Blue,lines:b3Lines,streaks:b3Streaks,chains:b3Chains,dots:b3Dots},
 {col:3,row:1,xr:[-2,2],yr:[0,15],xt:dTicks4,yt:[0,5,10],title:`<i>p</i>${GAP}=${GAP}1.0`,ty:14.3,tx:.67,fine:1,lab:['−2','0','2'],edge:c1Edge,cyan:c1Cyan,cyanLines:c1CyanLines,navy:c1Navy,thin:c1Thin,streaks:c1Streaks,chains:c1Chains},
 {col:4,row:1,xr:[-1.5,1],yr:[0,8],xt:dTicks3,yt:[0,4],title:`<i>p</i>${GAP}=${GAP}0.7`,ty:7.6,tx:-.12,lab:['−1','0','1'],edge:c2Edge,blue:c2Blue,navy:c2Navy,yellow2:c2Yellow,heavy:c2Heavy,lines:c2Lines,streaks:c2Streaks,chains:c2Chains,dots:c2Dots,cyanLines:c2Cyan,hole:c2Hole},
 {col:5,row:1,xr:[-1.5,1],yr:[0,8],xt:dTicks3,title:`<i>p</i>${GAP}=${GAP}0.5`,ty:7.6,tx:-.12,lab:['−1','0','1'],edge:c3Edge,blue:c3Blue,lines:c3Lines,heavy:c3Heavy,streaks:c3Streaks,chains:c3Chains,dots:c3Dots,white:c3White}
];
const cols=[[93,287.5],[293,487.5],[493,687.5],[733.5,896],[940,1102],[1107,1269]];
const rows=[[20,328.5],[343.5,651.7]];
const W=1282,H=724,YEL='#ffee00',NAVY='#00008b',BLUE='#0090ff',CYAN='#00ffe0';
const FONT='"Liberation Serif",serif', INK='#262626';
function flat(list){const x=[],y=[];list.forEach(p=>{p.forEach(q=>{x.push(q[0]);y.push(q[1])});x.push(null);y.push(null)});return {x,y};}
const traces=[],layout={width:W,height:H,margin:{l:0,r:0,t:0,b:0},paper_bgcolor:'#fff',plot_bgcolor:'#fff',showlegend:false,annotations:[],font:{family:FONT,color:INK}};
panels.forEach((p,i)=>{
 const n=i+1,ax=i?String(n):'',xa='x'+ax,ya='y'+ax;
 const base={xaxis:xa,yaxis:ya,hoverinfo:'skip',mode:'lines',type:'scatter'};
 const poly=(list,c,sp)=>{if(list&&list.length){const f=flat(list);traces.push({...base,...f,fill:'toself',fillcolor:c,line:{width:0,color:c,shape:sp?'spline':'linear',smoothing:.7}});}};
 const strokes=(list,c,w,dash,sp)=>{if(list){const f=flat(list);traces.push({...base,...f,line:{color:c,width:w,dash:dash||'solid',shape:sp?'spline':'linear',smoothing:.8}});}};
 const e=p.edge;
 poly([[[e[0][0],0],...e,[e[e.length-1][0],0]]],YEL,!p.flatEdge);
 poly(p.yellow,YEL);poly(p.blue,BLUE);poly(p.cyan,CYAN);
 if(p.navy){const touches=q=>q.some(v=>v[1]===0);poly(p.navy.filter(touches),NAVY,false);poly(p.navy.filter(q=>!touches(q)),NAVY,true);}
 poly(p.yellow2,YEL);poly(p.hole,'#ffffff',true);
 strokes(p.white,'#ffffff',1.5);
 const fw=p.fine?1:2,col=p.fine?'#30307f':NAVY;
 strokes(p.heavy,NAVY,3.5);strokes(p.lines,NAVY,p.fine?2.2:2.4,'solid',true);strokes(p.thin,'#55556f',1.3,'solid',true);
 if(p.streaks)strokes(p.streaks.map(s=>[[s[0],s[1]],[s[0],s[2]]]),col,fw);
 if(p.chains)strokes(p.chains,col,p.fine?1.2:2,p.fine?'1.5px,2.5px':'2px,4px');
 if(p.dots){const f={x:p.dots.map(d=>d[0]),y:p.dots.map(d=>d[1])};traces.push({...base,...f,mode:'markers',marker:{symbol:'square',size:2.8,color:NAVY}});}
 strokes(p.cyanLines,'#40e8c8',1.2);
 const c=cols[p.col],r=rows[p.row];
 const common={showgrid:false,zeroline:false,showline:true,mirror:true,linecolor:'#000',linewidth:1.6,ticks:'outside',ticklen:6,tickwidth:1.2,tickcolor:'#000',tickfont:{family:FONT,size:27,color:INK},fixedrange:true};
 layout['xaxis'+ax]={...common,anchor:ya,domain:[c[0]/W,c[1]/W],range:p.xr,tickmode:'array',tickvals:p.xt,ticktext:p.lab||p.xt.map(()=>''),ticklabelstandoff:-6};
 layout['yaxis'+ax]={...common,anchor:xa,domain:[1-r[1]/H,1-r[0]/H],range:p.yr,tickmode:'array',tickvals:p.yt||[],ticktext:(p.yt||[]).map(String),ticklabelstandoff:5};
 if(!p.yt)layout['yaxis'+ax].ticks='';
 layout.annotations.push({xref:xa,yref:ya,x:p.tx,y:p.ty,xanchor:'center',yanchor:'middle',text:p.title,showarrow:false,font:{family:FONT,size:25,color:INK}});
});
// region labels
const labelRows=[['D',.54,12.85,1,'#111'],['F',.54,7,1,'#fff'],['F',-.91,3.04,4,'#fff'],['D',-.31,6,5,'#222'],
 ['1',.125,6.49,7,'#222'],['2',.41,12,7,'#222'],['3',.659,12,7,'#222'],['4',.868,6.49,7,'#222'],
 ['1',-1.61,9.04,10,'#222'],['2',-.71,3.49,10,'#222'],['3',.3,2.95,10,'#222'],['4',.66,3.98,10,'#222'],['S',-.71,.33,12,'#fff']];
labelRows.forEach(l=>{const a=l[3]>1?String(l[3]):'';layout.annotations.push({xref:'x'+a,yref:'y'+a,x:l[1],y:l[2],xanchor:'center',yanchor:'middle',text:l[0],showarrow:false,font:{family:FONT,size:23,color:l[4]}});});
layout.annotations.push({xref:'x9',yref:'y9',x:.54,y:1.6,text:'S',showarrow:true,arrowhead:2,arrowsize:1.2,arrowwidth:1.5,arrowcolor:'#000',ax:46,ay:55,font:{family:FONT,size:23,color:'#222'}});
layout.annotations.push({xref:'x10',yref:'y10',x:.02,y:.33,text:'A',showarrow:true,arrowhead:2,arrowsize:1.2,arrowwidth:1.5,arrowcolor:'#000',ax:33,ay:28,font:{family:FONT,size:23,color:'#222'}});
// axis titles
const axisFont={family:FONT,size:29,color:INK};
layout.annotations.push({xref:'paper',yref:'paper',x:392/W,y:1-708/H,xanchor:'center',yanchor:'middle',text:`Chirality${GAP}Breaking${GAP}Concentration${GAP}<i>c</i>`,showarrow:false,font:axisFont});
layout.annotations.push({xref:'paper',yref:'paper',x:1011/W,y:1-708/H,xanchor:'center',yanchor:'middle',text:`Random${GAP}Chirality${GAP}Strength${GAP}Δ/<i>J</i>`,showarrow:false,font:axisFont});
layout.annotations.push({xref:'paper',yref:'paper',x:25/W,y:1-360/H,xanchor:'center',yanchor:'middle',text:`Temperature${GAP}1/<i>J</i>`,textangle:-90,showarrow:false,font:axisFont});
Plotly.newPlot('g',traces,layout,{displayModeBar:false,staticPlot:true});
</script></body></html>
